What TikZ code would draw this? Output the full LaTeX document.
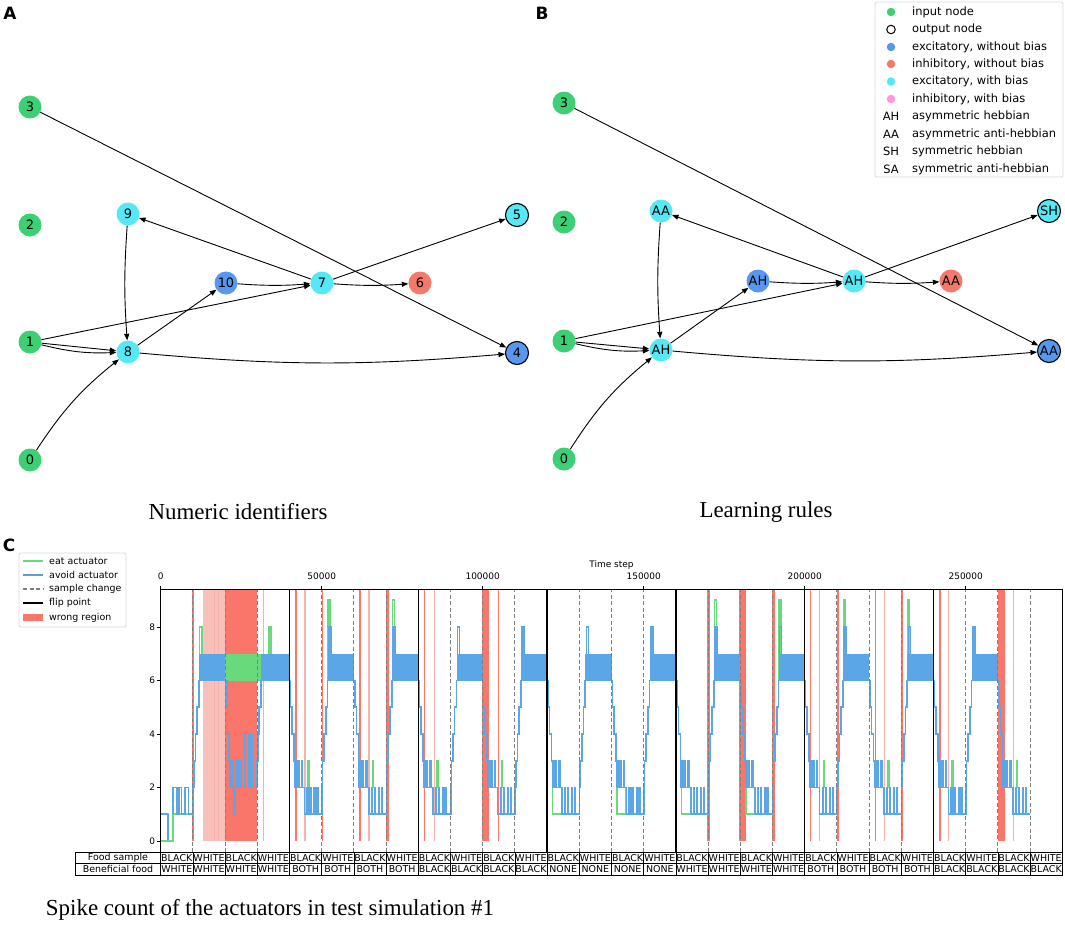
\documentclass[tikz,border=0pt]{standalone}
\usepackage{fontspec}
\setmainfont{Liberation Serif}
\newfontfamily\plotfont{DejaVu Sans}
\usetikzlibrary{arrows.meta}

% colours of the figure
\definecolor{inputgreen}{RGB}{61,207,115}
\definecolor{biascyan}{RGB}{86,232,246}
\definecolor{excblue}{RGB}{86,151,240}
\definecolor{inhred}{RGB}{245,121,106}
\definecolor{biaspink}{RGB}{255,150,222}
\definecolor{eatgreen}{RGB}{104,218,124}
\definecolor{avoidblue}{RGB}{90,166,230}
\definecolor{wrongred}{RGB}{250,118,106}
\definecolor{palered}{RGB}{248,192,186}
\definecolor{changegray}{RGB}{128,128,128}

% avoid actuator in a period with the black sample (low) or white sample (high)
\newcommand{\lowavoid}[1]{%
  \fill[avoidblue] ({#1+.14},2) rectangle ({#1+.29},3);
  \draw[avoidline] (#1,6) -| ({#1+.03},5) -| ({#1+.08},4) -| ({#1+.14},3) -| ({#1+.17},2)
    -| ({#1+.19},3) -| ({#1+.2},2) -| ({#1+.22},3) -| ({#1+.23},2) -| ({#1+.25},3)
    -| ({#1+.26},2) -| ({#1+.28},3) -| ({#1+.29},2) -| ({#1+.37},3) -| ({#1+.4},2)
    -| ({#1+.46},1) -| ({#1+.55},2) -| ({#1+.57},1) -| ({#1+.64},2) -| ({#1+.66},1)
    -| ({#1+.77},2) -| ({#1+.79},1) -| ({#1+.86},2) -| ({#1+.88},1) -- ({#1+1},1);
}
\newcommand{\highavoid}[1]{%
  \fill[avoidblue] ({#1+.19},6) rectangle ({#1+1},7);
  \draw[avoidline] (#1,1) -| ({#1+.01},2) -| ({#1+.03},3) -| ({#1+.08},4) -| ({#1+.13},5)
    -| ({#1+.18},6) -| ({#1+.22},8) -| ({#1+.28},6) -- ({#1+1},6);
}
% eat actuator where it shows from under the avoid actuator
\newcommand{\eatpeak}[1]{\draw[eatline] ({#1+.2},6) |- ({#1+.26},9) -- ({#1+.26},6);}
\newcommand{\eatspike}[1]{\draw[eatline] ({#1+.58},2) |- ({#1+.61},3) -- ({#1+.61},2);}
\newcommand{\eatdip}[1]{\draw[eatline] ({#1+.17},2) |- ({#1+.45},1) -- ({#1+.45},2);}

\begin{document}
\begin{tikzpicture}[x=1bp,y=-1bp]
    % Define styles
    \tikzset{
        neuron/.style={circle, minimum size=23bp, inner sep=0pt, font=\plotfont\fontsize{13}{13}\selectfont},
        innode/.style={neuron, fill=inputgreen},
        excit/.style={neuron, fill=excblue},
        inhib/.style={neuron, fill=inhred},
        excbias/.style={neuron, fill=biascyan},
        outnode/.style={draw=black, line width=1.1bp},
        synapse/.style={-{Triangle[length=6.5bp,width=5bp]}, line width=0.9bp},
        panellabel/.style={font=\plotfont\bfseries\fontsize{17}{17}\selectfont},
        figcaption/.style={font=\fontsize{23}{23}\selectfont},
        legbox/.style={draw=black!15, fill=white, rounded corners=2bp, line width=0.8bp},
        legdot/.style={circle, minimum size=8.5bp, inner sep=0pt},
        legtext/.style={anchor=west, inner sep=0pt, font=\plotfont\fontsize{11.5}{12}\selectfont},
        legmark/.style={inner sep=0pt, font=\plotfont\fontsize{11.5}{12}\selectfont},
        plottext/.style={inner sep=0pt, font=\plotfont\fontsize{9}{10}\selectfont},
        plotleg/.style={anchor=west, inner sep=0pt, font=\plotfont\fontsize{9.5}{10}\selectfont},
        tabletext/.style={inner sep=0pt, font=\plotfont\fontsize{9.5}{10}\selectfont},
        tablegrid/.style={line width=0.8bp},
        eatline/.style={draw=eatgreen, line width=1.6bp},
        avoidline/.style={draw=avoidblue, line width=1.6bp},
        samplechange/.style={draw=changegray, line width=1.1bp, dash pattern=on 4bp off 2.5bp},
        flipline/.style={draw=black, line width=1.4bp},
        spine/.style={draw=black, line width=0.9bp}
    }
    \useasboundingbox (0,0) rectangle (1065,929);

    % Panel labels
    \node[panellabel] (labA) at (10,13) {A};
    \node[panellabel] (labB) at (542,13) {B};
    \node[panellabel] (labC) at (9,545) {C};

    % Panel A: numeric identifiers
    \node[innode] (a3) at (30,107) {3};
    \node[innode] (a2) at (30,225) {2};
    \node[innode] (a1) at (30,342) {1};
    \node[innode] (a0) at (30,460) {0};
    \node[excbias] (a9) at (128,214) {9};
    \node[excbias] (a8) at (128,352) {8};
    \node[excit] (a10) at (226,283) {10};
    \node[excbias] (a7) at (322,283) {7};
    \node[inhib] (a6) at (420,283) {6};
    \node[excbias, outnode] (a5) at (517,215) {5};
    \node[excit, outnode] (a4) at (517,353) {4};

    \draw[synapse] (a3) -- (a4);
    \draw[synapse] (a1) -- (a7);
    \draw[synapse] (a1) -- (a8);
    \draw[synapse] (a1) to[bend right=8] (a8);
    \draw[synapse] (a0) to[bend left=9] (a8);
    \draw[synapse] (a9) to[bend right=4] (a8);
    \draw[synapse] (a7) -- (a9);
    \draw[synapse] (a8) -- (a10);
    \draw[synapse] (a10) to[bend right=4] (a7);
    \draw[synapse] (a7) to[bend right=4] (a6);
    \draw[synapse] (a7) -- (a5);
    \draw[synapse] (a8) to[bend right=5] (a4);

    \node[figcaption] (capA) at (238,512) {Numeric identifiers};

    % Panel B: learning rules
    \node[innode] (b3) at (564,103) {3};
    \node[innode] (b2) at (564,222) {2};
    \node[innode] (b1) at (564,341) {1};
    \node[innode] (b0) at (564,459) {0};
    \node[excbias] (b9) at (661,211) {AA};
    \node[excbias] (b8) at (661,350) {AH};
    \node[excit] (b10) at (758,281) {AH};
    \node[excbias] (b7) at (854,281) {AH};
    \node[inhib] (b6) at (951,281) {AA};
    \node[excbias, outnode] (b5) at (1049,211) {SH};
    \node[excit, outnode] (b4) at (1049,351) {AA};

    \draw[synapse] (b3) -- (b4);
    \draw[synapse] (b1) -- (b7);
    \draw[synapse] (b1) -- (b8);
    \draw[synapse] (b1) to[bend right=8] (b8);
    \draw[synapse] (b0) to[bend left=9] (b8);
    \draw[synapse] (b9) to[bend right=4] (b8);
    \draw[synapse] (b7) -- (b9);
    \draw[synapse] (b8) -- (b10);
    \draw[synapse] (b10) to[bend right=4] (b7);
    \draw[synapse] (b7) to[bend right=4] (b6);
    \draw[synapse] (b7) -- (b5);
    \draw[synapse] (b8) to[bend right=5] (b4);

    \node[figcaption] (capB) at (766,512) {Learning rules};

    % Legend of the networks
    \draw[legbox] (875,2) rectangle (1063,177);
    \node[legdot, fill=inputgreen] (kinput) at (891,12) {};
    \node[legdot, draw=black, line width=1bp] (koutput) at (891,29.5) {};
    \node[legdot, fill=excblue] (kexcit) at (891,47) {};
    \node[legdot, fill=inhred] (kinhib) at (891,64) {};
    \node[legdot, fill=biascyan] (kexcbias) at (891,81.5) {};
    \node[legdot, fill=biaspink] (kinhbias) at (891,99) {};
    \node[legmark] (kah) at (891,116.5) {AH};
    \node[legmark] (kaa) at (891,134) {AA};
    \node[legmark] (ksh) at (891,151.5) {SH};
    \node[legmark] (ksa) at (891,169) {SA};
    \node[legtext] (tinput) at (912,12) {input node};
    \node[legtext] (toutput) at (912,29.5) {output node};
    \node[legtext] (texcit) at (912,47) {excitatory, without bias};
    \node[legtext] (tinhib) at (912,64) {inhibitory, without bias};
    \node[legtext] (texcbias) at (912,81.5) {excitatory, with bias};
    \node[legtext] (tinhbias) at (912,99) {inhibitory, with bias};
    \node[legtext] (tah) at (912,116.5) {asymmetric hebbian};
    \node[legtext] (taa) at (912,134) {asymmetric anti-hebbian};
    \node[legtext] (tsh) at (912,151.5) {symmetric hebbian};
    \node[legtext] (tsa) at (912,169) {symmetric anti-hebbian};

    % Panel C: one unit is 10000 time steps and one spike
    \begin{scope}[shift={(160.7,841)}, x=32.2bp, y=26.75bp]
        % wrong regions
        \fill[palered] (1.31,0) rectangle (2,9.42);
        \foreach \a/\b in {0.97/1.04, 2/3, 5/5.05, 7/7.09, 9.98/10.2, 16.97/17.06, 17.96/18.18,
                           18.98/19.07, 21/21.06, 22.99/23.06, 26/26.22}
            {\fill[wrongred] (\a,0) rectangle (\b,9.42);}
        \foreach \a in {4.2, 6.19, 8.18, 10.48, 20.18, 22.2, 24.2}
            {\draw[wrongred, line width=1.2bp] (\a,0) -- (\a,9.42);}
        \foreach \a in {1.665, 1.79, 3.18, 4.48, 6.47, 8.49, 20.46, 22.48, 24.47, 26.47}
            {\draw[palered!80!wrongred, line width=1.1bp] (\a,0) -- (\a,9.42);}

        % eat actuator
        \fill[eatgreen] (1.19,6) rectangle (3.12,7);
        \draw[eatline] (.38,1) -| (1.01,2) -| (1.03,3) -| (1.08,4) -| (1.13,5) -| (1.19,6)
            -| (1.21,8) -| (1.28,6) -- (3.12,6);
        \draw[eatline] (3.36,7) |- (3.42,8) -- (3.42,7);
        \foreach \k in {5,7,17,19,21,23} {\eatpeak{\k}}
        \foreach \k in {4,6,8,10,20,22,24,26} {\eatspike{\k}}
        \foreach \k in {12,14,16,18} {\eatdip{\k}}

        % avoid actuator, first block
        \draw[avoidline] (0,1) -| (.23,0) -| (.38,2) -| (.5,1) -| (.56,2) -| (.64,1)
            -| (.76,2) -| (.86,1) -- (1,1);
        \fill[avoidblue] (1.19,6) rectangle (2,7);
        \draw[avoidline] (1,1) -| (1.01,2) -| (1.03,3) -| (1.08,4) -| (1.13,5) -| (1.19,6) -- (2,6);
        \fill[avoidblue] (3.12,6) rectangle (4,7);
        \draw[avoidline] (2,6) -| (2.05,5) -| (2.08,4) -| (2.12,3) -| (2.16,2) -| (2.2,3)
            -| (2.24,2) -| (2.27,1) -| (2.32,3) -| (2.35,2) -| (2.4,3) -| (2.43,2) -| (2.47,3)
            -| (2.5,2) -| (2.6,4) -| (2.63,2) -| (2.73,4) -| (2.75,2) -| (2.8,4) -| (2.83,2)
            -| (2.99,3) -| (3.02,4) -| (3.06,5) -| (3.12,6) -- (4,6);
        \draw[eatline] (0,0) -| (.38,1);
        % avoid actuator, later periods
        \foreach \k in {4,6,...,26} {\lowavoid{\k}}
        \foreach \k in {5,7,...,25} {\highavoid{\k}}

        % sample change and flip point
        \foreach \k in {1,2,3,5,6,7,9,10,11,13,14,15,17,18,19,21,22,23,25,26,27}
            {\draw[samplechange] (\k,-0.42) -- (\k,9.42);}
        \foreach \k in {4,8,...,24}
            {\draw[flipline] (\k,-0.42) -- (\k,9.42);}

        % axes
        \draw[spine] (0,-0.42) rectangle (28,9.42);
        \foreach \v in {0,2,4,6,8} {
            \draw[spine] (0,\v) -- ++(-3.5bp,0);
            \node[plottext, anchor=east] (ytick\v) at (-0.17,\v) {\v};
        }
        \foreach \u/\t in {0/0, 5/50000, 10/100000, 15/150000, 20/200000, 25/250000} {
            \draw[spine] (\u,9.42) -- ++(0,3.5bp);
            \node[plottext, anchor=base] (xtick\u) at (\u,9.76) {\t};
        }
        \node[plottext, anchor=base] (xlabel) at (14,10.22) {Time step};
    \end{scope}

    % Legend of the spike plot
    \draw[legbox] (19,553) rectangle (126,627);
    \draw[eatline] (23,561) -- (43,561);
    \draw[avoidline, draw=avoidblue!75!gray] (23,575) -- (43,575);
    \draw[samplechange] (23,589) -- (43,589);
    \draw[flipline] (23,603) -- (43,603);
    \fill[wrongred] (23,613.5) rectangle (43,621);
    \node[plotleg] (teat) at (49,561) {eat actuator};
    \node[plotleg] (tavoid) at (49,575) {avoid actuator};
    \node[plotleg] (tchange) at (49,589) {sample change};
    \node[plotleg] (tflip) at (49,603) {flip point};
    \node[plotleg] (twrong) at (49,617.5) {wrong region};

    % Table under the axes
    \draw[tablegrid] (75,852.2) rectangle (1062.3,875);
    \draw[tablegrid] (75,863.6) -- (1062.3,863.6);
    \foreach \j in {0,...,27}
        {\draw[tablegrid] ({160.7+32.2*\j},852.2) -- ({160.7+32.2*\j},875);}
    \node[tabletext] (rowfood) at (118,858) {Food sample};
    \node[tabletext] (rowbenefit) at (118,869.4) {Beneficial food};
    \foreach \j in {0,2,...,26}
        {\node[tabletext] (food\j) at ({176.8+32.2*\j},858) {BLACK};}
    \foreach \j in {1,3,...,27}
        {\node[tabletext] (food\j) at ({176.8+32.2*\j},858) {WHITE};}
    \foreach \food [count=\blk from 0] in {WHITE,BOTH,BLACK,NONE,WHITE,BOTH,BLACK}
        {\foreach \i in {0,...,3}
            {\node[tabletext] (benefit\blk\i) at ({176.8+32.2*(4*\blk+\i)},869.4) {\food};}}

    % Caption of panel C
    \node[figcaption] (capC) at (270,910) {Spike count of the actuators in test simulation \#1};
\end{tikzpicture}
\end{document}
